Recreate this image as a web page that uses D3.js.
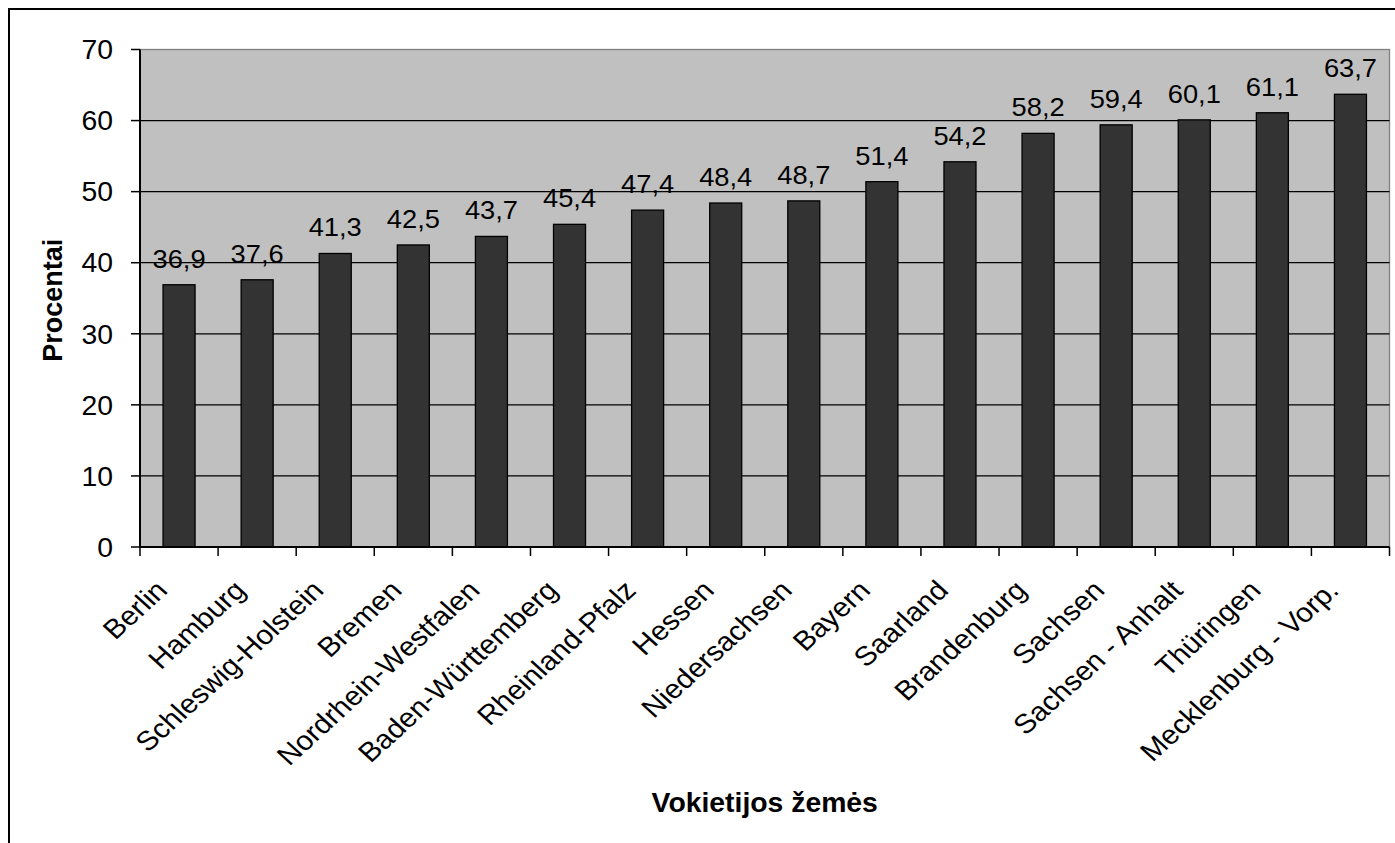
<!DOCTYPE html>
<html>
<head>
<meta charset="utf-8">
<script src="https://cdn.jsdelivr.net/npm/d3@7"></script>
<style>
  body { margin: 0; background: #fff; }
  svg text { font-family: "Liberation Sans", Arial, sans-serif; fill: #000; }
</style>
</head>
<body>
<svg width="1395" height="843"></svg>
<script>
const states = ['Berlin', 'Hamburg', 'Schleswig-Holstein', 'Bremen', 'Nordrhein-Westfalen',
  'Baden-Württemberg', 'Rheinland-Pfalz', 'Hessen', 'Niedersachsen', 'Bayern', 'Saarland',
  'Brandenburg', 'Sachsen', 'Sachsen - Anhalt', 'Thüringen', 'Mecklenburg - Vorp.'];
const percents = [36.9, 37.6, 41.3, 42.5, 43.7, 45.4, 47.4, 48.4, 48.7, 51.4, 54.2, 58.2, 59.4, 60.1, 61.1, 63.7];
const yTicks = [0, 10, 20, 30, 40, 50, 60, 70];

const svg = d3.select('svg');
const plot = {left: 140, right: 1389.5, top: 49.5, bottom: 547};
const sx = 1.05; // the original picture is a little wider than tall
const fs = 27;
const comma = v => v.toFixed(1).replace('.', ',');

// outer frame
svg.append('rect')
    .attr('x', 9).attr('y', 9)
    .attr('width', 1400).attr('height', 850)
    .attr('fill', 'none').attr('stroke', '#000').attr('stroke-width', 2);

const x = d3.scaleBand()
    .domain(states)
    .range([plot.left, plot.right])
    .paddingInner(0.59)
    .paddingOuter(0.295);
const y = d3.scaleLinear().domain([0, 70]).range([plot.bottom, plot.top]);

svg.append('rect')
    .attr('x', plot.left).attr('y', plot.top)
    .attr('width', plot.right - plot.left).attr('height', plot.bottom - plot.top)
    .attr('fill', '#c0c0c0').attr('stroke', '#808080').attr('stroke-width', 1.3);

// gridlines
svg.append('g').selectAll('line')
    .data(yTicks.filter(t => t > 0 && t < 70))
    .enter().append('line')
    .attr('x1', plot.left).attr('x2', plot.right)
    .attr('y1', d => y(d)).attr('y2', d => y(d))
    .attr('stroke', '#000').attr('stroke-width', 1.3);

// bars
svg.append('g').selectAll('rect')
    .data(percents)
    .enter().append('rect')
    .attr('x', (d, i) => x(states[i]))
    .attr('y', d => y(d))
    .attr('width', x.bandwidth())
    .attr('height', d => y(0) - y(d))
    .attr('fill', '#333333').attr('stroke', '#000').attr('stroke-width', 1.3);

// value labels
svg.append('g').selectAll('text')
    .data(percents)
    .enter().append('text')
    .attr('transform', (d, i) => `translate(${x(states[i]) + x.bandwidth() / 2},${y(d) - 17}) scale(${sx},1)`)
    .attr('text-anchor', 'middle')
    .style('font-size', '26px')
    .text(comma);

// y axis
const yAxis = svg.append('g');
yAxis.append('line')
    .attr('x1', plot.left).attr('x2', plot.left)
    .attr('y1', plot.top).attr('y2', plot.bottom)
    .attr('stroke', '#000').attr('stroke-width', 2);
yAxis.selectAll('line.tick')
    .data(yTicks)
    .enter().append('line')
    .attr('class', 'tick')
    .attr('x1', plot.left - 9).attr('x2', plot.left)
    .attr('y1', d => y(d)).attr('y2', d => y(d))
    .attr('stroke', '#000').attr('stroke-width', 1.5);
yAxis.selectAll('text')
    .data(yTicks)
    .enter().append('text')
    .attr('transform', d => `translate(113,${y(d)}) scale(${sx},1)`)
    .attr('text-anchor', 'end')
    .attr('dy', '0.36em')
    .style('font-size', fs + 'px')
    .text(d => d);

// x axis
const xAxis = svg.append('g');
xAxis.append('line')
    .attr('x1', plot.left).attr('x2', plot.right)
    .attr('y1', plot.bottom).attr('y2', plot.bottom)
    .attr('stroke', '#000').attr('stroke-width', 2);
const step = x.step();
xAxis.selectAll('line.tick')
    .data(d3.range(states.length + 1))
    .enter().append('line')
    .attr('class', 'tick')
    .attr('x1', i => plot.left + i * step).attr('x2', i => plot.left + i * step)
    .attr('y1', plot.bottom).attr('y2', plot.bottom + 9)
    .attr('stroke', '#000').attr('stroke-width', 1.5);
xAxis.selectAll('text')
    .data(states)
    .enter().append('text')
    .attr('transform', d => `translate(${x(d) + x.bandwidth() / 2 - 10},592) scale(1.1,1) rotate(-45)`)
    .attr('text-anchor', 'end')
    .style('font-size', fs + 'px')
    .text(d => d);

// axis titles
svg.append('text')
    .attr('transform', `translate(${(plot.left + plot.right) / 2},812) scale(${sx},1)`)
    .attr('text-anchor', 'middle')
    .style('font-size', fs + 'px').style('font-weight', 'bold')
    .text('Vokietijos žemės');
svg.append('text')
    .attr('transform', `translate(62,${(plot.top + plot.bottom) / 2 + 2}) scale(${sx},1) rotate(-90)`)
    .attr('text-anchor', 'middle')
    .style('font-size', fs + 'px').style('font-weight', 'bold')
    .text('Procentai');
</script>
</body>
</html>
